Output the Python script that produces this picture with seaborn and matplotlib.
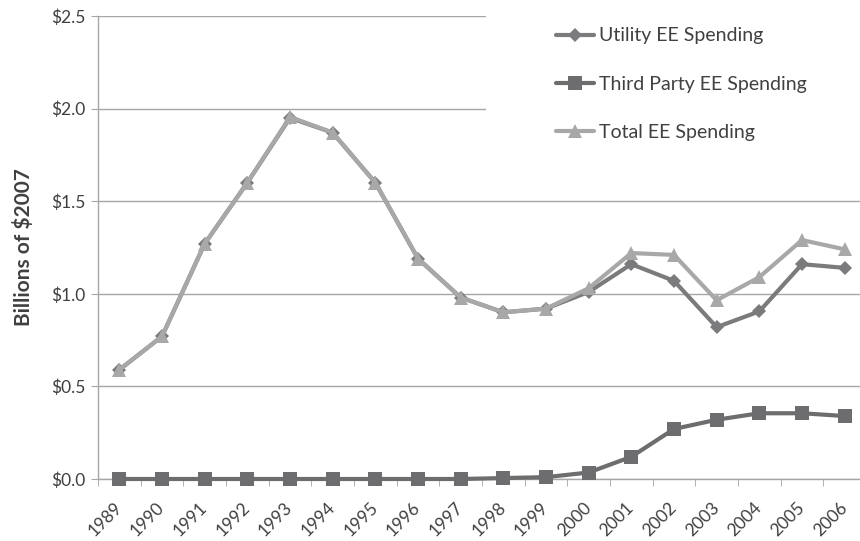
import numpy as np
import pandas as pd
import matplotlib
matplotlib.use("Agg")
import matplotlib.pyplot as plt
import seaborn as sns
from matplotlib.patches import Rectangle
from matplotlib.ticker import FuncFormatter, FixedLocator

# Data
years = [str(y) for y in range(1989, 2007)]
utility = [0.59, 0.77, 1.27, 1.60, 1.95, 1.87, 1.60, 1.19, 0.98, 0.90,
           0.92, 1.01, 1.16, 1.07, 0.82, 0.905, 1.16, 1.14]
third_party = [0.0, 0.0, 0.0, 0.0, 0.0, 0.0, 0.0, 0.0, 0.0, 0.005,
               0.01, 0.035, 0.12, 0.27, 0.32, 0.355, 0.355, 0.34]
total = [0.59, 0.77, 1.27, 1.60, 1.955, 1.87, 1.60, 1.19, 0.98, 0.90,
         0.92, 1.03, 1.22, 1.21, 0.965, 1.09, 1.29, 1.24]
series_names = ["Utility EE Spending", "Third Party EE Spending", "Total EE Spending"]

sns.set_style("white")
plt.rcParams["font.family"] = ["Lato", "DejaVu Sans"]

text_color = "#404040"
grid_color = "#a6a6a6"
colors = ["#7b7b7d", "#6d6d70", "#a8a8a8"]
markers = ["D", "s", "^"]
msizes = [7, 9.5, 10]

fig = plt.figure(figsize=(8.6, 5.41), dpi=100)
ax = fig.add_axes([98 / 860, 1 - 479 / 541, 768 / 860, 463 / 541])

x = np.arange(len(years))
for name, vals, c, m, ms in zip(series_names, [utility, third_party, total],
                                colors, markers, msizes):
    df = pd.DataFrame({"idx": x, "val": vals})
    sns.lineplot(data=df, x="idx", y="val", ax=ax, color=c, marker=m,
                 markersize=ms, markeredgewidth=0, linewidth=3,
                 label=name, zorder=3, clip_on=False)

ax.set_xlim(-0.5, len(years) - 0.5)
ax.set_ylim(0, 2.5)
ax.set_yticks(np.arange(0, 2.51, 0.5))
ax.yaxis.set_major_formatter(FuncFormatter(lambda v, p: f"${v:.1f}"))
ax.set_xticks(x)
ax.set_xticklabels(years, rotation=45, ha="right", va="center",
                   rotation_mode="anchor")
ax.xaxis.set_minor_locator(FixedLocator(np.arange(-0.5, len(years), 1)))
ax.tick_params(axis="x", which="major", length=0, pad=19,
               labelsize=12.5, labelcolor=text_color)
ax.tick_params(axis="x", which="minor", length=5, color=grid_color,
               direction="out", bottom=True)
ax.tick_params(axis="y", length=5, color=grid_color, direction="out",
               labelsize=12.5, labelcolor=text_color, left=True, pad=4)

ax.set_axisbelow(True)
ax.yaxis.grid(True, color=grid_color, linewidth=1)
for side in ["top", "right"]:
    ax.spines[side].set_visible(False)
for side in ["left", "bottom"]:
    ax.spines[side].set_color(grid_color)
    ax.spines[side].set_linewidth(1)

ax.set_xlabel("")
ax.set_ylabel("Billions of $2007", fontsize=15, fontweight="bold",
              color=text_color, labelpad=12)

# white box behind legend, hiding the upper gridlines
ax.add_patch(Rectangle((8.6, 1.6), 10, 1.2, facecolor="white",
                       edgecolor="none", zorder=1, clip_on=False))

handles, labels = ax.get_legend_handles_labels()
ax.legend(handles, labels, loc="upper left",
          bbox_to_anchor=(538 / 860, 1 - 10 / 541),
          bbox_transform=fig.transFigure, frameon=False, fontsize=14,
          labelcolor=text_color, handlelength=2.0, handletextpad=0.25,
          labelspacing=1.6)

fig.savefig("out.png", dpi=100)
